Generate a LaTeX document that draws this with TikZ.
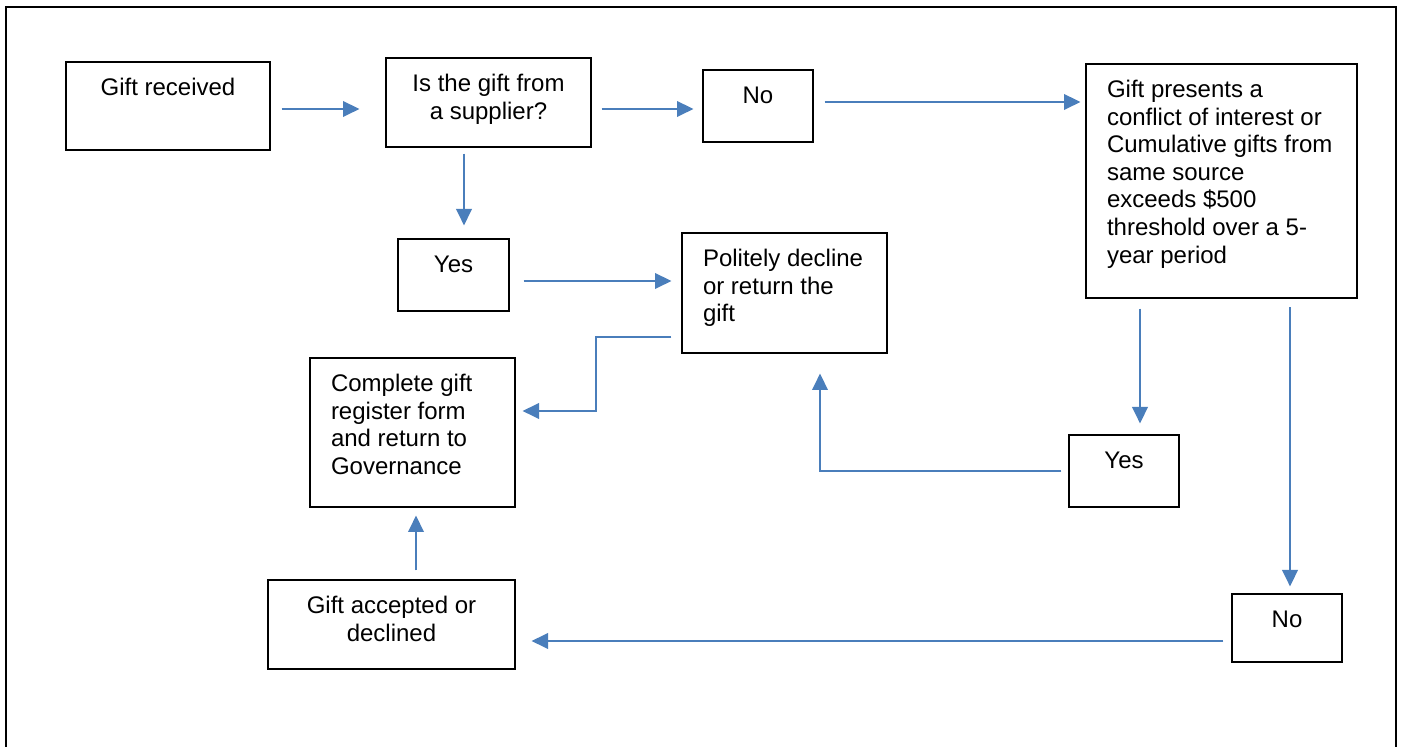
\documentclass[tikz,border=0pt]{standalone}
\usepackage{fontspec}
\setmainfont{Liberation Sans}
\usetikzlibrary{arrows.meta,calc}
\definecolor{arrowblue}{HTML}{4A7EBB}
\newcommand\mystrut{\rule{0pt}{9pt}}
\newcommand\bxt[4]{\parbox[c][#2][t]{#1}{#3\vspace*{7.75pt}\mystrut #4}}
\newcommand\ctr{\centering}
\newcommand\lft{\raggedright\leftskip=10.5pt\relax}
\tikzset{
  box/.style={draw=black, line width=0.6pt, inner sep=0pt, font=\fontsize{12pt}{13.8pt}\selectfont},
  arr/.style={draw=arrowblue, line width=1pt, -{Triangle[length=8.2pt,width=7.8pt]}},
  frame/.style={draw=black, line width=0.75pt}
}
\begin{document}
\begin{tikzpicture}[x=0.5pt,y=-0.5pt]
\useasboundingbox (0,0) rectangle (1402,747);
\draw[frame] (6,760) -- (6,7) -- (1396,7) -- (1396,760);

\node[box] (b1) at (168,106) {\bxt{102pt}{44pt}{\ctr}{Gift received}};
\node[box] (b2) at (488.5,102.5) {\bxt{102.5pt}{44.5pt}{\ctr}{Is the gift from\\ a supplier?}};
\node[box] (b3) at (758,106) {\bxt{55pt}{36pt}{\ctr}{No}};
\node[box] (b4) at (1221.5,181) {\bxt{135.5pt}{117pt}{\lft}{Gift presents a\\ conflict of interest or\\ Cumulative gifts from\\ same source\\ exceeds \$500\\ threshold over a 5-\\ year period}};
\node[box] (b5) at (453.5,275) {\bxt{55.5pt}{36pt}{\ctr}{Yes}};
\node[box] (b6) at (784.5,293) {\bxt{102.5pt}{60pt}{\lft}{Politely decline\\ or return the\\ gift}};
\node[box] (b7) at (412.5,432.5) {\bxt{102.5pt}{74.5pt}{\lft}{Complete gift\\ register form\\ and return to\\ Governance}};
\node[box] (b8) at (1124,471) {\bxt{55pt}{36pt}{\ctr}{Yes}};
\node[box] (b9) at (391.5,624.5) {\bxt{123.5pt}{44.5pt}{\ctr}{Gift accepted or\\ declined}};
\node[box] (b10) at (1287,628) {\bxt{55pt}{34pt}{\ctr}{No}};

\draw[arr] ($(b1.east)+(11,3)$) -- ($(b2.west |- b1.east)+(-26,3)$);
\draw[arr] ($(b2.east)+(10,6.5)$) -- ($(b3.west |- b2.east)+(-9,6.5)$);
\draw[arr] ($(b3.east)+(11,-4)$) -- ($(b4.west |- b3.east)+(-5,-4)$);
\draw[arr] ($(b2.south)+(-24.5,6)$) -- ($(b5.north -| b2.south)+(-24.5,-13)$);
\draw[arr] ($(b5.east)+(14,6)$) -- ($(b6.west |- b5.east)+(-10,6)$);
\draw[arr] ($(b6.west)+(-10,44)$) -- ++(-75,0) |- ($(b7.east)+(7,-21.5)$);
\draw[arr] ($(b4.south)+(-81.5,10)$) -- ($(b8.north -| b4.south)+(-81.5,-11)$);
\draw[arr] ($(b4.south)+(68.5,8.5)$) -- ($(b10.north -| b4.south)+(68.5,-7)$);
\draw[arr] ($(b8.west)+(-7,0)$) -| ($(b6.south)+(35.5,20)$);
\draw[arr] ($(b10.west)+(-8,13)$) -- ($(b9.east |- b10.west)+(16,13)$);
\draw[arr] ($(b9.north)+(24.5,-9)$) -- ($(b7.south -| b9.north)+(24.5,8)$);
\end{tikzpicture}
\end{document}
